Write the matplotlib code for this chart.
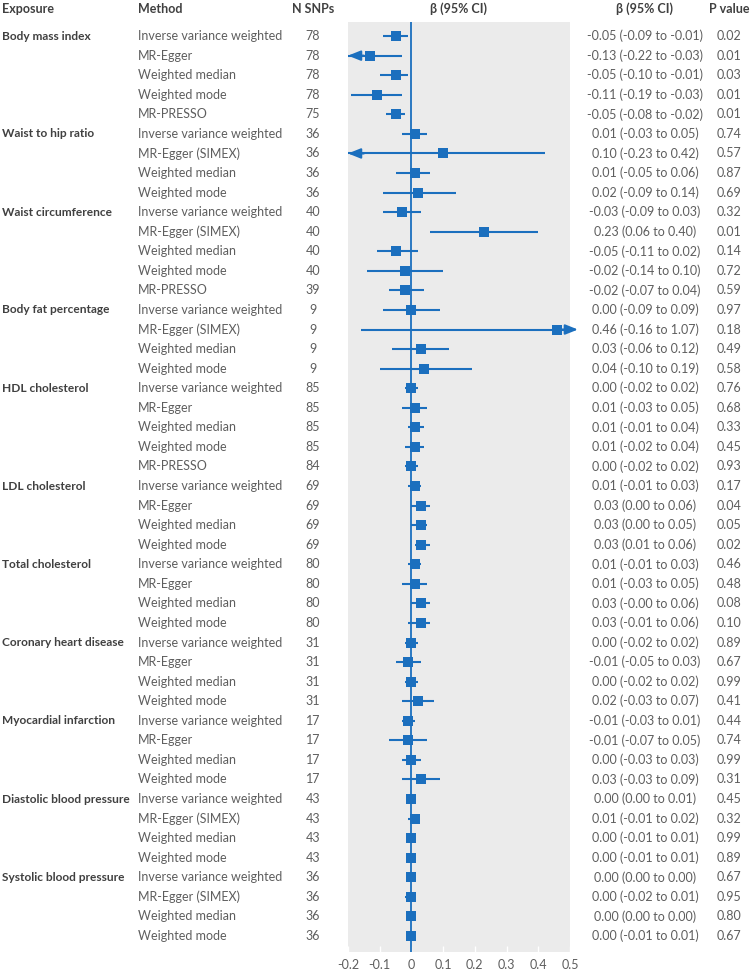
import matplotlib
matplotlib.use("Agg")
import matplotlib.pyplot as plt
from matplotlib.transforms import blended_transform_factory

plt.rcParams['font.family'] = ['Lato', 'DejaVu Sans']

# exposures and how many method rows each one has
exposures = ["Body mass index", "Waist to hip ratio", "Waist circumference",
             "Body fat percentage", "HDL cholesterol", "LDL cholesterol",
             "Total cholesterol", "Coronary heart disease", "Myocardial infarction",
             "Diastolic blood pressure", "Systolic blood pressure"]
group_sizes = [5, 4, 5, 4, 5, 4, 4, 4, 4, 4, 4]

IVW = "Inverse variance weighted"
methods = [IVW, "MR-Egger", "Weighted median", "Weighted mode", "MR-PRESSO",
           IVW, "MR-Egger (SIMEX)", "Weighted median", "Weighted mode",
           IVW, "MR-Egger (SIMEX)", "Weighted median", "Weighted mode", "MR-PRESSO",
           IVW, "MR-Egger (SIMEX)", "Weighted median", "Weighted mode",
           IVW, "MR-Egger", "Weighted median", "Weighted mode", "MR-PRESSO",
           IVW, "MR-Egger", "Weighted median", "Weighted mode",
           IVW, "MR-Egger", "Weighted median", "Weighted mode",
           IVW, "MR-Egger", "Weighted median", "Weighted mode",
           IVW, "MR-Egger", "Weighted median", "Weighted mode",
           IVW, "MR-Egger (SIMEX)", "Weighted median", "Weighted mode",
           IVW, "MR-Egger (SIMEX)", "Weighted median", "Weighted mode"]

n_snps = [78, 78, 78, 78, 75,
          36, 36, 36, 36,
          40, 40, 40, 40, 39,
          9, 9, 9, 9,
          85, 85, 85, 85, 84,
          69, 69, 69, 69,
          80, 80, 80, 80,
          31, 31, 31, 31,
          17, 17, 17, 17,
          43, 43, 43, 43,
          36, 36, 36, 36]

beta = [-0.05, -0.13, -0.05, -0.11, -0.05,
        0.01, 0.10, 0.01, 0.02,
        -0.03, 0.23, -0.05, -0.02, -0.02,
        0.00, 0.46, 0.03, 0.04,
        0.00, 0.01, 0.01, 0.01, 0.00,
        0.01, 0.03, 0.03, 0.03,
        0.01, 0.01, 0.03, 0.03,
        0.00, -0.01, 0.00, 0.02,
        -0.01, -0.01, 0.00, 0.03,
        0.00, 0.01, 0.00, 0.00,
        0.00, 0.00, 0.00, 0.00]

lower = [-0.09, -0.22, -0.10, -0.19, -0.08,
         -0.03, -0.23, -0.05, -0.09,
         -0.09, 0.06, -0.11, -0.14, -0.07,
         -0.09, -0.16, -0.06, -0.10,
         -0.02, -0.03, -0.01, -0.02, -0.02,
         -0.01, 0.00, 0.00, 0.01,
         -0.01, -0.03, -0.0, -0.01,
         -0.02, -0.05, -0.02, -0.03,
         -0.03, -0.07, -0.03, -0.03,
         0.00, -0.01, -0.01, -0.01,
         0.00, -0.02, 0.00, -0.01]

upper = [-0.01, -0.03, -0.01, -0.03, -0.02,
         0.05, 0.42, 0.06, 0.14,
         0.03, 0.40, 0.02, 0.10, 0.04,
         0.09, 1.07, 0.12, 0.19,
         0.02, 0.05, 0.04, 0.04, 0.02,
         0.03, 0.06, 0.05, 0.06,
         0.03, 0.05, 0.06, 0.06,
         0.02, 0.03, 0.02, 0.07,
         0.01, 0.05, 0.03, 0.09,
         0.01, 0.02, 0.01, 0.01,
         0.00, 0.01, 0.00, 0.01]

p_values = [0.02, 0.01, 0.03, 0.01, 0.01,
            0.74, 0.57, 0.87, 0.69,
            0.32, 0.01, 0.14, 0.72, 0.59,
            0.97, 0.18, 0.49, 0.58,
            0.76, 0.68, 0.33, 0.45, 0.93,
            0.17, 0.04, 0.05, 0.02,
            0.46, 0.48, 0.08, 0.10,
            0.89, 0.67, 0.99, 0.41,
            0.44, 0.74, 0.99, 0.31,
            0.45, 0.32, 0.99, 0.89,
            0.67, 0.95, 0.80, 0.67]

x_ticks = [-0.2, -0.1, 0, 0.1, 0.2, 0.3, 0.4, 0.5]
tick_labels = ["-0.2", "-0.1", "0", "0.1", "0.2", "0.3", "0.4", "0.5"]

blue = "#1b6fbe"
grey_txt = "#5e5e5e"
dark_txt = "#404040"
xmin, xmax = -0.2, 0.5

W, H = 750, 969
fig = plt.figure(figsize=(7.5, 9.69), dpi=100)
ax = fig.add_axes([348 / W, 1 - 952 / H, 222 / W, 930 / H])
ax.set_facecolor("#ebebeb")
for s in ax.spines.values():
    s.set_visible(False)

n = len(beta)
rows = list(range(n))
ax.set_xlim(xmin, xmax)
ax.set_ylim(46.82, -0.72)
ax.axvline(0, color=blue, lw=1.3, zorder=2)

head = "-|>,head_length=0.75,head_width=0.3"
for i in rows:
    lo = max(lower[i], xmin)
    hi = min(upper[i], xmax)
    ax.plot([lo, hi], [i, i], color=blue, lw=1.5, solid_capstyle="butt", zorder=3)
    if lower[i] < xmin:
        ax.annotate("", xy=(xmin, i), xytext=(xmin + 0.05, i),
                    arrowprops=dict(arrowstyle=head, color=blue, lw=1.5,
                                    shrinkA=0, shrinkB=0),
                    zorder=4)
    if upper[i] > xmax:
        ax.annotate("", xy=(xmax + 0.025, i), xytext=(xmax - 0.03, i),
                    arrowprops=dict(arrowstyle=head, color=blue, lw=1.5,
                                    shrinkA=0, shrinkB=0),
                    annotation_clip=False, zorder=4)
    ax.plot(beta[i], i, marker="s", ms=7.3, color=blue, mew=0, zorder=5)

ax.set_xticks(x_ticks)
ax.set_xticklabels(tick_labels)
ax.tick_params(axis="x", direction="in", length=4, color="white", width=1,
               labelsize=9, labelcolor=grey_txt, pad=5)
ax.set_yticks([])

tr = blended_transform_factory(fig.transFigure, ax.transData)
fs = 9

# exposure labels at the first row of each group
start = 0
for name, size in zip(exposures, group_sizes):
    fig.text(2 / W, start, name, transform=tr, ha="left", va="center",
             fontsize=8.6, fontweight="bold", color=dark_txt)
    start += size

for i in rows:
    fig.text(138 / W, i, methods[i], transform=tr, ha="left", va="center",
             fontsize=fs, color=grey_txt)
    fig.text(313 / W, i, str(n_snps[i]), transform=tr, ha="center", va="center",
             fontsize=fs, color=grey_txt)
    ci = f"{beta[i]:.2f} ({lower[i]:.2f} to {upper[i]:.2f})"
    fig.text(645 / W, i, ci, transform=tr, ha="center", va="center",
             fontsize=fs, color=grey_txt)
    fig.text(729 / W, i, f"{p_values[i]:.2f}", transform=tr, ha="center", va="center",
             fontsize=fs, color=grey_txt)

hy = 1 - 9 / H
headers = [("Exposure", 2, "left"), ("Method", 138, "left"), ("N SNPs", 313, "center"),
           ("β (95% CI)", 459, "center"), ("β (95% CI)", 645, "center"),
           ("P value", 729, "center")]
for txt, x, ha in headers:
    fig.text(x / W, hy, txt, ha=ha, va="center", fontsize=fs,
             fontweight="bold", color=dark_txt)

fig.savefig("out.png", dpi=100, facecolor="white")
